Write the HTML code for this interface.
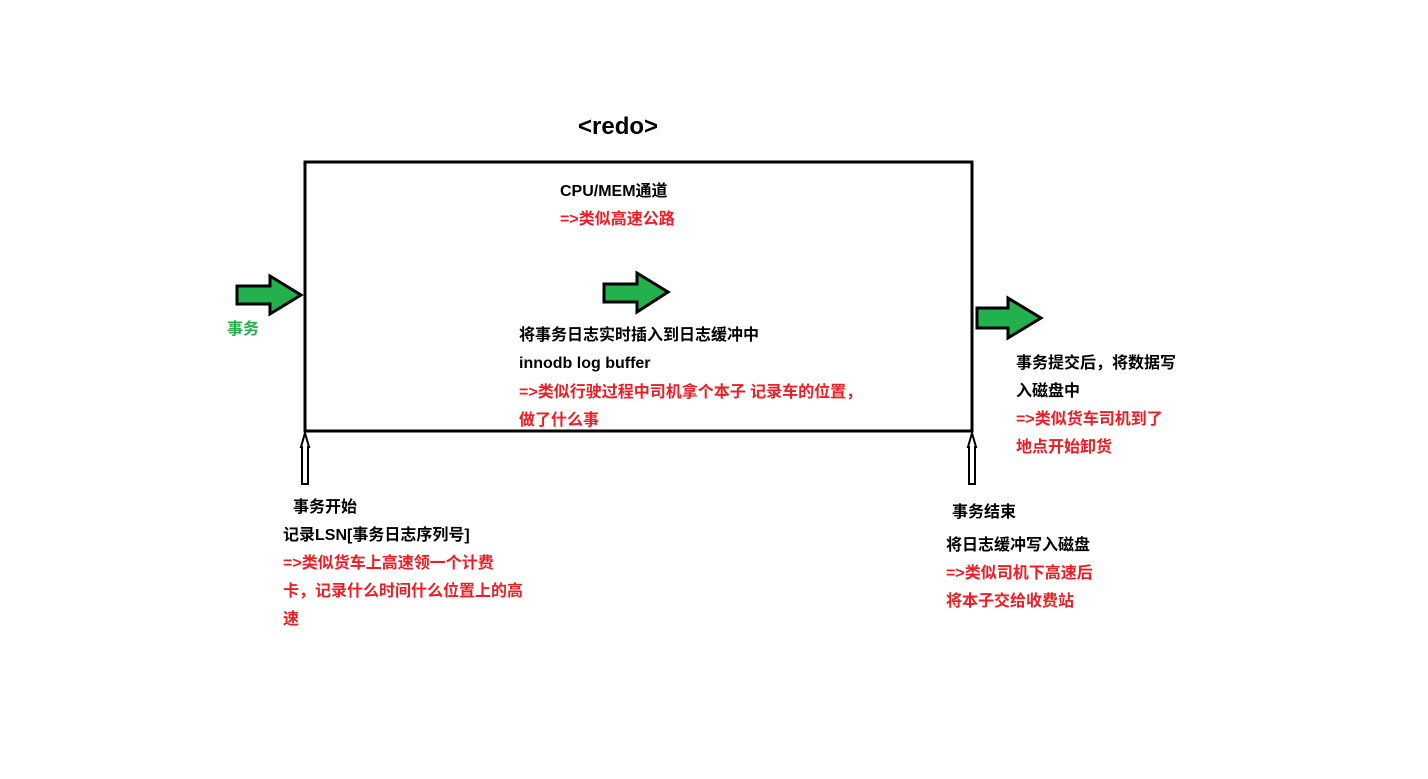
<!DOCTYPE html>
<html><head><meta charset="utf-8"><style>
body{margin:0;background:#fff;}
svg text{font-family:"Liberation Sans","Noto Sans CJK SC",sans-serif;font-weight:bold;font-size:16px;}
.r{fill:#ee1c24}.k{fill:#000}.g{fill:#22b14c}
</style></head><body>
<svg width="1428" height="774" xmlns="http://www.w3.org/2000/svg">
<rect x="305" y="162" width="667" height="269" fill="none" stroke="#000" stroke-width="3"/>
<text x="578" y="134" style="font-size:24px">&lt;redo&gt;</text>
<g fill="#22b14c" stroke="#000" stroke-width="3">
<polygon points="237,286 270,286 270,276 301,295 270,314 270,304 237,304"/>
<polygon points="604,284 637,284 637,273 668,292 637,312 637,302 604,302"/>
<polygon points="977,308 1008,308 1008,298 1041,318 1008,338 1008,328 977,328"/>
</g>
<g fill="#fff" stroke="#000" stroke-width="2">
<polygon points="305,433 309,447 308,447 308,484 302,484 302,447 301,447"/>
<polygon points="972,433 976,447 975,447 975,484 969,484 969,447 968,447"/>
</g>
<text class="k" x="560" y="196">CPU/MEM通道</text>
<text class="r" x="560" y="224">=&gt;类似高速公路</text>
<text class="g" x="227" y="334">事务</text>
<text class="k" x="519" y="340">将事务日志实时插入到日志缓冲中</text>
<text class="k" x="519" y="368">innodb log buffer</text>
<text class="r" x="519" y="397">=&gt;类似行驶过程中司机拿个本子 记录车的位置，</text>
<text class="r" x="519" y="425">做了什么事</text>
<text class="k" x="1016" y="368">事务提交后，将数据写</text>
<text class="k" x="1016" y="396">入磁盘中</text>
<text class="r" x="1016" y="424">=&gt;类似货车司机到了</text>
<text class="r" x="1016" y="452">地点开始卸货</text>
<text class="k" x="293" y="512">事务开始</text>
<text class="k" x="283" y="540">记录LSN[事务日志序列号]</text>
<text class="r" x="283" y="568">=&gt;类似货车上高速领一个计费</text>
<text class="r" x="283" y="596">卡，记录什么时间什么位置上的高</text>
<text class="r" x="283" y="624">速</text>
<text class="k" x="952" y="517">事务结束</text>
<text class="k" x="946" y="550">将日志缓冲写入磁盘</text>
<text class="r" x="946" y="578">=&gt;类似司机下高速后</text>
<text class="r" x="946" y="606">将本子交给收费站</text>
</svg>
</body></html>
